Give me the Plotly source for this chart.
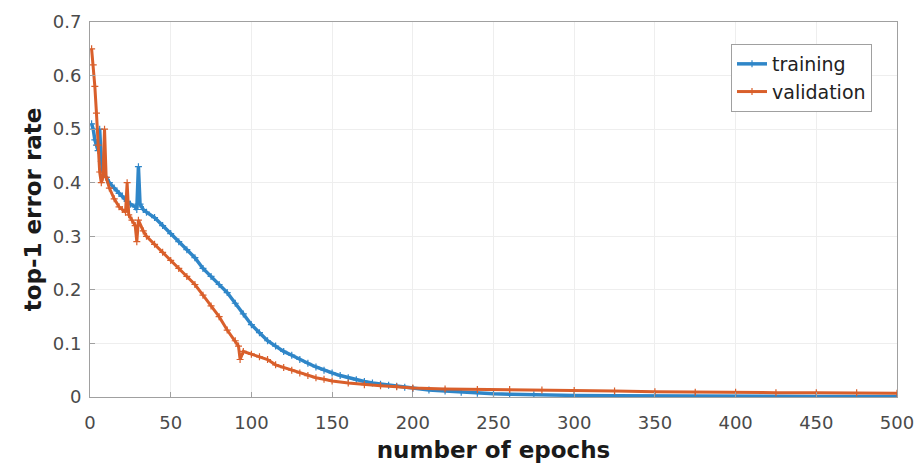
import plotly.graph_objects as go

# ---- data ----
train_epochs = [1, 2, 3, 4, 5, 6, 7, 8, 10, 12, 15, 18, 20, 23, 25, 28, 29, 30, 31, 33, 35,
                40, 45, 50, 55, 60, 65, 70, 75, 80, 85, 90, 95, 100, 105, 110, 115, 120, 125,
                130, 135, 140, 145, 150, 155, 160, 165, 170, 175, 180, 185, 190, 195, 200,
                210, 220, 230, 240, 250, 260, 275, 300, 325, 350, 375, 400, 450, 500]
train_err = [0.51, 0.50, 0.48, 0.47, 0.46, 0.50, 0.44, 0.42, 0.41, 0.40, 0.39, 0.38, 0.375,
             0.365, 0.36, 0.355, 0.35, 0.43, 0.36, 0.35, 0.345,
             0.335, 0.32, 0.305, 0.29, 0.275, 0.26, 0.24, 0.225, 0.21, 0.195, 0.175, 0.155,
             0.135, 0.12, 0.105, 0.095, 0.085, 0.078,
             0.07, 0.063, 0.056, 0.05, 0.045, 0.04, 0.036, 0.032, 0.029, 0.026, 0.024, 0.022,
             0.02, 0.018, 0.016,
             0.013, 0.011, 0.009, 0.007, 0.006, 0.005, 0.004, 0.003, 0.0025, 0.002, 0.0015,
             0.0012, 0.001, 0.001]

val_epochs = [1, 2, 3, 4, 5, 6, 7, 8, 9, 10, 12, 15, 18, 20, 22, 23, 24, 26, 28, 29, 30, 33,
              35, 40, 45, 50, 55, 60, 65, 70, 75, 80, 85, 90, 92, 93, 95, 100, 105, 110, 115,
              120, 125, 130, 135, 140, 145, 150, 160, 170, 180, 190, 200, 220, 240, 260, 280,
              300, 325, 350, 375, 400, 425, 450, 475, 500]
val_err = [0.65, 0.62, 0.58, 0.53, 0.47, 0.42, 0.40, 0.41, 0.50, 0.41, 0.39, 0.37, 0.355,
           0.35, 0.345, 0.40, 0.34, 0.33, 0.32, 0.29, 0.33, 0.31,
           0.30, 0.285, 0.27, 0.255, 0.24, 0.225, 0.21, 0.19, 0.17, 0.15, 0.125, 0.105, 0.095,
           0.07, 0.085, 0.08, 0.075, 0.07, 0.06,
           0.055, 0.05, 0.045, 0.04, 0.036, 0.033, 0.03, 0.026, 0.023, 0.021, 0.019, 0.017,
           0.015, 0.014, 0.014, 0.013,
           0.012, 0.011, 0.010, 0.009, 0.009, 0.008, 0.008, 0.008, 0.007]

x_ticks = [0, 50, 100, 150, 200, 250, 300, 350, 400, 450, 500]
y_ticks = [0, 0.1, 0.2, 0.3, 0.4, 0.5, 0.6, 0.7]
y_tick_labels = ["0", "0.1", "0.2", "0.3", "0.4", "0.5", "0.6", "0.7"]

BLUE = "#2f86c8"
ORANGE = "#d95f2b"
FONT = "DejaVu Sans, Liberation Sans, Arial, sans-serif"

fig = go.Figure()
fig.add_trace(go.Scatter(
    x=train_epochs, y=train_err, name="training", mode="lines+markers",
    line=dict(color=BLUE, width=3.5),
    marker=dict(symbol="cross-thin", size=5, line=dict(color=BLUE, width=1.2)),
))
fig.add_trace(go.Scatter(
    x=val_epochs, y=val_err, name="validation", mode="lines+markers",
    line=dict(color=ORANGE, width=3),
    marker=dict(symbol="cross-thin", size=5, line=dict(color=ORANGE, width=1.2)),
))

axis_common = dict(
    showline=True, linecolor="#a0a0a0", linewidth=1, mirror=True,
    showgrid=True, gridcolor="#eeeeee", gridwidth=1,
    ticks="inside", ticklen=5, tickcolor="#a0a0a0",
    tickfont=dict(family=FONT, size=18, color="#4a4a4a"),
    zeroline=False, automargin=False,
)

fig.update_layout(
    width=922, height=469,
    margin=dict(l=82, r=33, t=14, b=80),
    paper_bgcolor="white", plot_bgcolor="white",
    xaxis=dict(range=[0, 500], tickvals=x_ticks, ticklabelstandoff=9,
               title=dict(text="<b>number of epochs</b>", standoff=10,
                          font=dict(family=FONT, size=23, color="#1a1a1a")),
               **axis_common),
    yaxis=dict(range=[0, 0.7], tickvals=y_ticks, ticktext=y_tick_labels,
               ticklabelstandoff=4,
               title=dict(text="<b>top-1 error rate</b>", standoff=4,
                          font=dict(family=FONT, size=23, color="#1a1a1a")),
               **axis_common),
    legend=dict(
        x=(872 - 90) / 807, y=(397 - 44) / 375, xanchor="right", yanchor="top",
        bgcolor="white", bordercolor="#a0a0a0", borderwidth=1,
        font=dict(family=FONT, size=19, color="#222222"),
        itemwidth=30, tracegroupgap=2,
    ),
    showlegend=True,
)

fig.write_html("out.html")
